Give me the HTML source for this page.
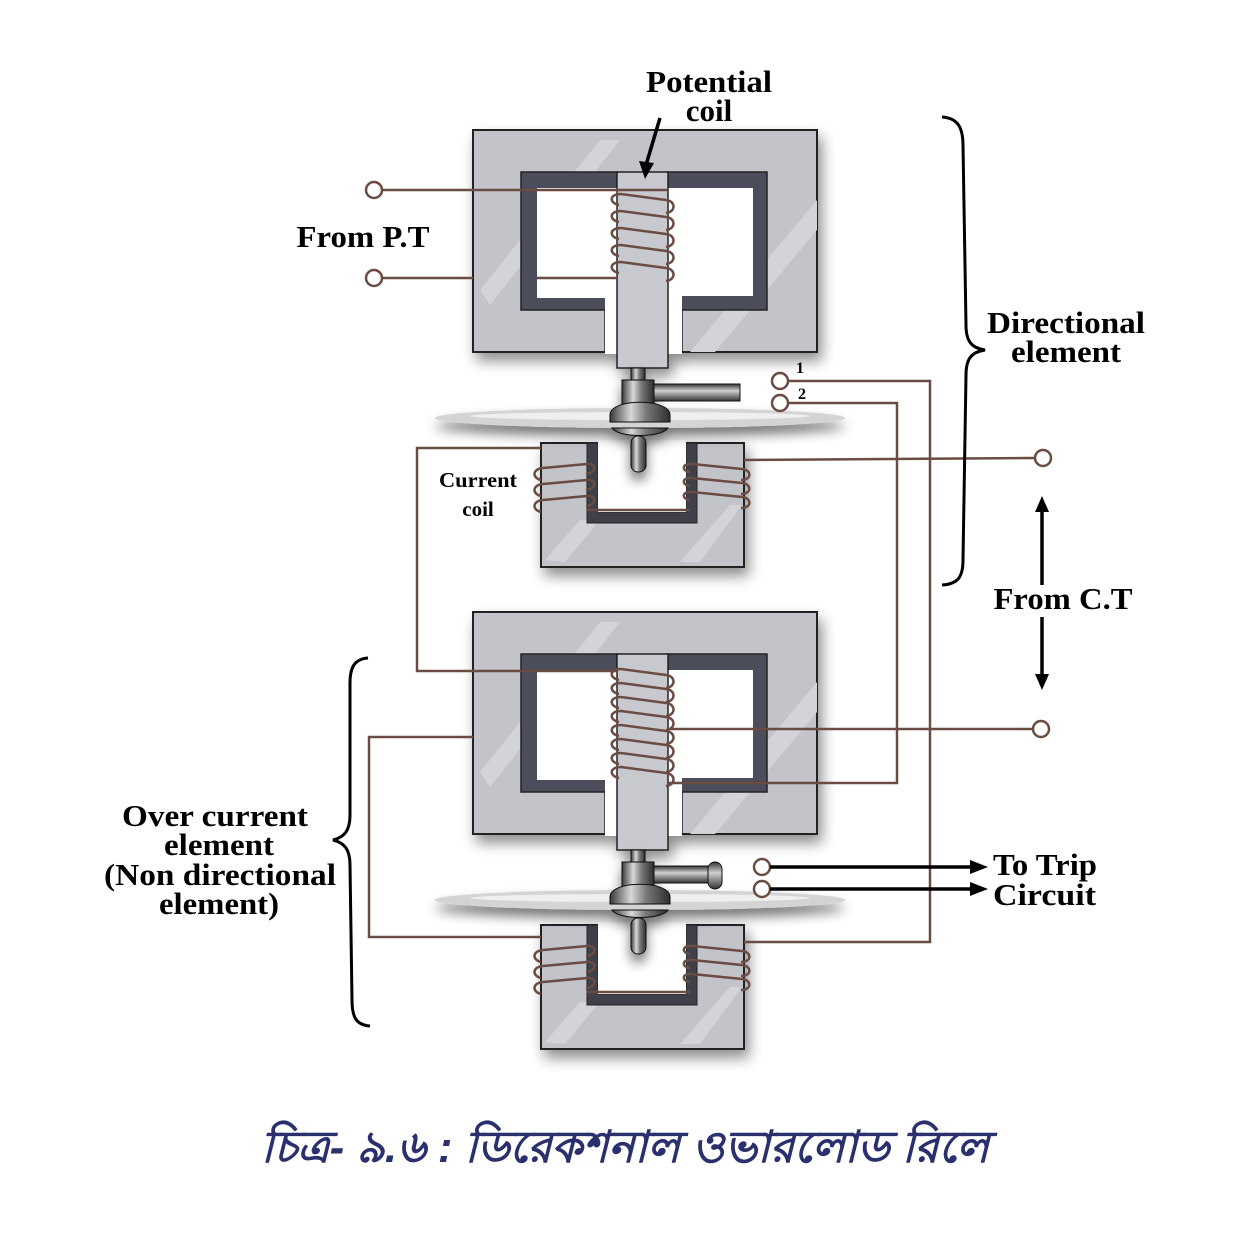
<!DOCTYPE html>
<html><head><meta charset="utf-8"><style>
html,body{margin:0;padding:0;background:#fff}
svg{display:block}
.t{font-family:"Liberation Serif",serif;font-weight:bold;fill:#000}
</style></head><body>
<svg width="1250" height="1250" viewBox="0 0 1250 1250" xmlns="http://www.w3.org/2000/svg">
<defs>
<filter id="sh" x="-20%" y="-20%" width="150%" height="150%"><feGaussianBlur in="SourceAlpha" stdDeviation="7"/><feOffset dx="4" dy="8"/><feComponentTransfer><feFuncA type="linear" slope="0.45"/></feComponentTransfer><feMerge><feMergeNode/><feMergeNode in="SourceGraphic"/></feMerge></filter>
<filter id="sh2" x="-20%" y="-100%" width="140%" height="400%"><feGaussianBlur in="SourceAlpha" stdDeviation="6"/><feOffset dx="0" dy="8"/><feComponentTransfer><feFuncA type="linear" slope="0.55"/></feComponentTransfer><feMerge><feMergeNode/><feMergeNode in="SourceGraphic"/></feMerge></filter>
<linearGradient id="metal" x1="0" x2="1" y1="0" y2="0"><stop offset="0" stop-color="#3a3a3a"/><stop offset="0.35" stop-color="#d8d8d8"/><stop offset="0.6" stop-color="#7a7a7a"/><stop offset="1" stop-color="#2e2e2e"/></linearGradient>
<linearGradient id="metalv" x1="0" x2="0" y1="0" y2="1"><stop offset="0" stop-color="#333"/><stop offset="0.4" stop-color="#d0d0d0"/><stop offset="1" stop-color="#333"/></linearGradient>
<path id="tc" d="M619,0 C609,-2 609,-11 621,-11 L666,-5 C676,-4 676,7 666,8" fill="none"/>
<path id="tl" d="M541,0 C532,-2 532,-11 543,-12 L587,-16 C597,-17 597,-7 586,-6" fill="none"/>
<path id="tr" d="M690,-12 C681,-13 682,-21 692,-20 L742,-15 C752,-14 752,-4 741,-4" fill="none"/>
<g id="ecore">
 <rect x="473" y="130" width="344" height="222" fill="#c3c3ca" stroke="#222" stroke-width="2"/>
 <path d="M480,290 L600,140 L620,140 L490,305Z M690,352 L817,200 L817,230 L715,352Z" fill="#d3d3da"/>
 <path d="M521,172 L617,172 L617,352 L605,352 L605,310 L521,310Z" fill="#4c4e5a" stroke="#222" stroke-width="1.5"/>
 <rect x="537" y="188" width="80" height="110" fill="#fff"/>
 <path d="M668,172 L767,172 L767,310 L682,310 L682,352 L668,352Z" fill="#4c4e5a" stroke="#222" stroke-width="1.5"/>
 <rect x="668" y="188" width="85" height="108" fill="#fff"/>
 <rect x="605" y="298" width="12" height="56" fill="#fff"/>
 <rect x="668" y="296" width="14" height="58" fill="#fff"/>
 <rect x="617" y="172" width="51" height="196" fill="#c8c8cf" stroke="#222" stroke-width="1.5"/>
</g>
<g id="ucore">
 <rect x="541" y="443" width="203" height="124" fill="#c3c3ca" stroke="#222" stroke-width="2"/>
 <path d="M545,560 L580,520 L600,520 L565,562Z M680,562 L730,505 L742,505 L700,562Z" fill="#d3d3da"/>
 <path d="M587,443 L598,443 L598,512 L686,512 L686,443 L697,443 L697,523 L587,523Z" fill="#3f414c" stroke="#222"/>
 <rect x="598" y="440" width="88" height="72" fill="#fff"/>
</g>
<g id="spindle">
 <ellipse cx="640" cy="418" rx="205" ry="10" fill="#d4d4d4"/>
 <ellipse cx="640" cy="416" rx="170" ry="4" fill="#efefef"/>
 <rect x="631" y="368" width="14" height="14" fill="url(#metal)" stroke="#111"/>
 <rect x="622" y="380" width="32" height="30" fill="url(#metal)" stroke="#111"/>
 <path d="M610,415 C610,398 670,398 670,415 L670,422 L610,422Z" fill="url(#metal)" stroke="#111"/>
 <path d="M612,428 L668,428 C662,438 618,438 612,428Z" fill="url(#metal)" stroke="#111"/>
 <rect x="631" y="436" width="15" height="36" rx="7" fill="url(#metal)" stroke="#111"/>
</g>
</defs>

<g filter="url(#sh)"><use href="#ecore"/></g>
<g filter="url(#sh)"><use href="#ecore" transform="translate(0,482)"/></g>
<g filter="url(#sh)"><use href="#ucore"/></g>
<g filter="url(#sh)"><use href="#ucore" transform="translate(0,482)"/></g>
<g filter="url(#sh2)"><use href="#spindle"/></g>
<g filter="url(#sh2)"><use href="#spindle" transform="translate(0,482)"/></g>
<rect x="654" y="384" width="86" height="17" fill="url(#metalv)" stroke="#111"/>
<rect x="654" y="866" width="62" height="17" fill="url(#metalv)" stroke="#111"/>
<rect x="708" y="862" width="14" height="27" rx="7" fill="url(#metalv)" stroke="#111"/>

<g fill="none" stroke="#6b4c42" stroke-width="2.5">
 <path d="M383,190 L668,190"/>
 <path d="M383,278 L473,278"/>
 <path d="M537,278 L617,278"/>
 <path d="M789,381 L930,381 L930,942 L744,942"/>
 <path d="M789,403 L897,403 L897,783 L668,783"/>
 <path d="M744,460 L1034,458"/>
 <path d="M541,448 L417,448 L417,671 L617,671"/>
 <path d="M1032,729 L668,729"/>
 <path d="M473,737 L369,737 L369,937 L541,937"/>
 <path d="M587,510 L690,510"/>
 <path d="M587,992 L690,992"/>
</g>
<g stroke="#6b4c42" stroke-width="2.5" fill="none">
 <use href="#tc" y="205"/><use href="#tc" y="222"/><use href="#tc" y="239"/><use href="#tc" y="256"/><use href="#tc" y="273"/>
 <use href="#tc" y="680"/><use href="#tc" y="694"/><use href="#tc" y="708"/><use href="#tc" y="722"/><use href="#tc" y="736"/><use href="#tc" y="750"/><use href="#tc" y="764"/><use href="#tc" y="778"/>
 <use href="#tl" y="480"/><use href="#tl" y="496"/><use href="#tl" y="512"/>
 <use href="#tr" y="484"/><use href="#tr" y="498"/><use href="#tr" y="512"/>
 <use href="#tl" y="962"/><use href="#tl" y="978"/><use href="#tl" y="994"/>
 <use href="#tr" y="966"/><use href="#tr" y="980"/><use href="#tr" y="994"/>
</g>
<g fill="#fff" stroke="#6b4c42" stroke-width="2.5">
 <circle cx="374" cy="190" r="8"/><circle cx="374" cy="278" r="8"/>
 <circle cx="780" cy="381" r="8"/><circle cx="780" cy="403" r="8"/>
 <circle cx="1043" cy="458" r="8"/><circle cx="1041" cy="729" r="8"/>
 <circle cx="762" cy="867" r="8"/><circle cx="762" cy="889" r="8"/>
</g>
<g stroke="#000" stroke-width="3.5">
 <line x1="770" y1="867" x2="972" y2="867"/><line x1="770" y1="889" x2="972" y2="889"/>
 <line x1="1042" y1="510" x2="1042" y2="585"/><line x1="1042" y1="617" x2="1042" y2="676"/>
 <line x1="660" y1="118" x2="646" y2="165"/>
</g>
<g fill="#000">
 <path d="M970,860 L988,867 L970,874Z"/><path d="M970,882 L988,889 L970,896Z"/>
 <path d="M1035,512 L1042,496 L1049,512Z"/><path d="M1035,674 L1042,690 L1049,674Z"/>
 <path d="M639,161 L645,179 L654,163Z"/>
</g>
<g fill="none" stroke="#000" stroke-width="3">
 <path d="M942,117 C958,118 963,128 963,145 L966,325 C966,342 972,348 985,350 C972,352 966,358 966,375 L963,560 C963,577 958,584 942,585"/>
 <path d="M368,658 C354,659 350,668 350,683 L350,815 C350,830 345,837 333,840 C345,843 350,850 350,865 L352,1000 C352,1017 356,1025 370,1026"/>
</g>
<text class="t" x="709" y="92" font-size="31" text-anchor="middle" textLength="126" lengthAdjust="spacingAndGlyphs">Potential</text>
<text class="t" x="709" y="121" font-size="31" text-anchor="middle">coil</text>
<text class="t" x="363" y="247" font-size="31" text-anchor="middle" textLength="133" lengthAdjust="spacingAndGlyphs">From P.T</text>
<text class="t" x="1066" y="333" font-size="31" text-anchor="middle" textLength="158" lengthAdjust="spacingAndGlyphs">Directional</text>
<text class="t" x="1066" y="362" font-size="31" text-anchor="middle" textLength="110" lengthAdjust="spacingAndGlyphs">element</text>
<text class="t" x="478" y="487" font-size="21" text-anchor="middle" textLength="78" lengthAdjust="spacingAndGlyphs">Current</text>
<text class="t" x="478" y="516" font-size="21" text-anchor="middle">coil</text>
<text class="t" x="800" y="373" font-size="16" text-anchor="middle">1</text>
<text class="t" x="802" y="399" font-size="16" text-anchor="middle">2</text>
<text class="t" x="1063" y="609" font-size="31" text-anchor="middle" textLength="139" lengthAdjust="spacingAndGlyphs">From C.T</text>
<text class="t" x="215" y="826" font-size="31" text-anchor="middle" textLength="186" lengthAdjust="spacingAndGlyphs">Over current</text>
<text class="t" x="219" y="855" font-size="31" text-anchor="middle" textLength="110" lengthAdjust="spacingAndGlyphs">element</text>
<text class="t" x="220" y="885" font-size="31" text-anchor="middle" textLength="232" lengthAdjust="spacingAndGlyphs">(Non directional</text>
<text class="t" x="219" y="914" font-size="31" text-anchor="middle" textLength="120" lengthAdjust="spacingAndGlyphs">element)</text>
<text class="t" x="993" y="875" font-size="31" textLength="104" lengthAdjust="spacingAndGlyphs">To Trip</text>
<text class="t" x="993" y="905" font-size="31" textLength="103" lengthAdjust="spacingAndGlyphs">Circuit</text>
<text x="625" y="1162" font-size="44" font-style="italic" font-weight="bold" fill="#2a2f6e" text-anchor="middle" textLength="728" lengthAdjust="spacingAndGlyphs" font-family="'Liberation Sans', sans-serif">চিত্র- ৯.৬ : ডিরেকশনাল ওভারলোড রিলে</text>
</svg>
</body></html>
